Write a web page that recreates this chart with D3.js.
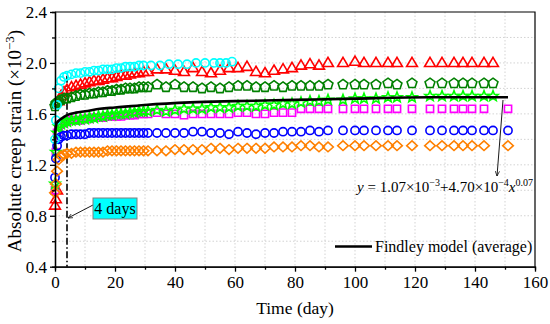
<!doctype html>
<html lang="en">
<head>
    <meta charset="UTF-8">
    <title>Absolute creep strain</title>
    <script type="text/javascript" src="https://cdn.jsdelivr.net/npm/d3@7/dist/d3.min.js"></script>
    <style type="text/css">
        body { margin: 0; background: #fff; }
        svg { display: block; font-family: "Liberation Serif", "Times New Roman", serif; }
        .grid line { stroke: #c8c8c8; stroke-width: 0.8; stroke-dasharray: 1.5, 2; }
        .axis path, .axis line { stroke: #000; stroke-width: 1.3; }
        .axis text { font-size: 17px; fill: #000; font-family: "Liberation Serif", serif; }
    </style>
</head>
<body>
<script type="text/javascript">

    var w = 550;
    var h = 324;

    // measurement days
    var earlyDays = [0, 0.3, 0.7, 1.2, 2, 3, 4, 5.5, 7, 8.5, 10, 11.5, 13, 14.5, 16, 17.5, 19, 20.5, 22, 23.5, 25, 26.5, 28, 29.5];
    var lateDays = [31, 34, 37, 40, 43, 46, 49, 52, 55, 58, 61, 64, 67, 70, 73, 76, 79, 82, 85, 88, 91, 96,
        100, 103, 107, 111, 114, 119, 125, 129, 133, 136, 139, 143, 146, 151];
    var cyanLateDays = [32, 35, 38, 41, 44, 47, 50, 53, 55, 57, 59];

    // strain values (x10^-3)
    var cyanEarly = [1.40, 1.55, 1.67, 1.80, 1.86, 1.89, 1.90, 1.91, 1.92, 1.92, 1.93, 1.93, 1.94, 1.94, 1.95, 1.95, 1.95, 1.96, 1.96, 1.97, 1.97, 1.97, 1.98, 1.98];
    var cyanLate = [1.98, 1.98, 1.99, 1.99, 1.99, 2.00, 2.00, 2.00, 2.00, 2.00, 2.01];

    var redEarly = [0.88, 0.93, 1.00, 1.70, 1.74, 1.77, 1.79, 1.81, 1.82, 1.83, 1.84, 1.85, 1.86, 1.86, 1.87, 1.88, 1.88, 1.89, 1.90, 1.90, 1.91, 1.92, 1.92, 1.93];
    var redLate = [1.93, 1.95, 1.95, 1.94, 1.93, 1.96, 1.93, 1.92, 1.94, 1.96, 1.96, 1.97, 1.93, 1.92, 1.94, 1.95, 1.96, 1.98, 1.99, 1.98, 2.00, 2.00,
        2.01, 2.00, 2.00, 2.00, 2.00, 2.00, 2.00, 2.00, 2.00, 2.00, 2.00, 2.00, 2.00, null];

    var pentEarly = [1.66, 1.68, 1.69, 1.70, 1.71, 1.72, 1.72, 1.73, 1.74, 1.75, 1.75, 1.76, 1.76, 1.77, 1.77, 1.78, 1.78, 1.79, 1.79, 1.80, 1.80, 1.80, 1.81, 1.81];
    var pentLate = [1.81, 1.83, 1.81, 1.83, 1.81, 1.81, 1.80, 1.81, 1.80, 1.81, 1.82, 1.82, 1.81, 1.81, 1.82, 1.81, 1.82, 1.82, 1.82, 1.82, 1.83, 1.83,
        1.83, 1.83, 1.83, 1.84, 1.83, 1.84, 1.84, 1.84, 1.84, 1.84, 1.84, 1.84, 1.84, null];

    var starEarly = [1.05, 1.30, 1.45, 1.50, 1.52, 1.53, 1.54, 1.55, 1.55, 1.56, 1.56, 1.57, 1.57, 1.58, 1.58, 1.59, 1.59, 1.60, 1.60, 1.60, 1.61, 1.61, 1.62, 1.62];
    var starLate = [1.62, 1.63, 1.62, 1.63, 1.64, 1.64, 1.64, 1.65, 1.65, 1.65, 1.66, 1.66, 1.66, 1.67, 1.67, 1.68, 1.68, 1.69, 1.70, 1.70, 1.71, 1.71,
        1.72, 1.72, 1.72, 1.73, 1.73, 1.73, 1.74, 1.74, 1.74, 1.74, 1.74, 1.74, 1.74, null];

    var squareEarly = [1.00, 1.30, 1.45, 1.50, 1.52, 1.53, 1.54, 1.55, 1.55, 1.55, 1.56, 1.56, 1.57, 1.57, 1.57, 1.58, 1.58, 1.58, 1.58, 1.59, 1.59, 1.59, 1.60, 1.60];
    var squareLate = [1.60, 1.61, 1.60, 1.60, 1.59, 1.60, 1.60, 1.60, 1.60, 1.60, 1.61, 1.61, 1.60, 1.60, 1.61, 1.61, 1.61, 1.64, 1.64, 1.64, 1.64, 1.64,
        1.64, 1.64, 1.64, 1.64, 1.64, 1.64, 1.64, 1.64, 1.64, 1.64, 1.64, 1.64, null, 1.64];

    var blueEarly = [1.10, 1.25, 1.35, 1.40, 1.42, 1.43, 1.43, 1.44, 1.44, 1.44, 1.44, 1.45, 1.45, 1.45, 1.45, 1.45, 1.45, 1.45, 1.45, 1.45, 1.45, 1.45, 1.45, 1.45];
    var blueLate = [1.45, 1.45, 1.45, 1.45, 1.45, 1.46, 1.46, 1.45, 1.45, 1.44, 1.46, 1.45, 1.44, 1.45, 1.45, 1.46, 1.46, 1.46, 1.47, 1.46, 1.47, 1.47,
        1.47, 1.47, 1.47, 1.47, 1.47, 1.47, 1.47, 1.47, 1.47, 1.47, 1.47, 1.47, 1.47, 1.47];

    var orangeEarly = [0.98, 1.05, 1.15, 1.24, 1.27, 1.28, 1.29, 1.29, 1.30, 1.30, 1.30, 1.30, 1.30, 1.30, 1.30, 1.31, 1.31, 1.31, 1.31, 1.31, 1.31, 1.31, 1.31, 1.31];
    var orangeLate = [1.31, 1.31, 1.31, 1.32, 1.32, 1.32, 1.32, 1.33, 1.33, 1.32, 1.33, 1.33, 1.33, 1.33, 1.34, 1.34, 1.34, 1.35, 1.35, 1.34, 1.34, 1.35,
        1.35, 1.35, 1.35, 1.35, 1.35, 1.35, 1.35, 1.35, 1.35, 1.35, 1.35, 1.35, null, 1.35];

    // Findley model (average)
    var findleyDays = [0, 0.02, 0.1, 0.3, 0.6, 1, 2, 4, 7, 10, 15, 20, 30, 45, 60, 80, 100, 125, 151];
    var findleyVals = [1.32, 1.41, 1.46, 1.50, 1.53, 1.54, 1.56, 1.59, 1.61, 1.62, 1.64, 1.65, 1.67, 1.69, 1.70, 1.71, 1.72, 1.73, 1.73];

    var xTicks = [0, 20, 40, 60, 80, 100, 120, 140, 160];
    var yTicks = [0.4, 0.8, 1.2, 1.6, 2.0, 2.4];

    function pairs(days, vals) {
        var out = [];
        vals.forEach(function (v, i) {
            if (v !== null) out.push([days[i], v]);
        });
        return out;
    }

    var series = [
        {shape: "triangle", color: "#ff0000", data: pairs(earlyDays, redEarly).concat(pairs(lateDays, redLate))},
        {shape: "pentagon", color: "#008000", data: pairs(earlyDays, pentEarly).concat(pairs(lateDays, pentLate))},
        {shape: "square", color: "#ff00ff", data: pairs(earlyDays, squareEarly).concat(pairs(lateDays, squareLate))},
        {shape: "star", color: "#00ff00", data: pairs(earlyDays, starEarly).concat(pairs(lateDays, starLate))},
        {shape: "circle", color: "#0000ff", data: pairs(earlyDays, blueEarly).concat(pairs(lateDays, blueLate))},
        {shape: "diamond", color: "#ff8000", data: pairs(earlyDays, orangeEarly).concat(pairs(lateDays, orangeLate))},
        {shape: "circle", color: "#00ffff", data: pairs(earlyDays, cyanEarly).concat(pairs(cyanLateDays, cyanLate))}
    ];

    var plotL = 55, plotR = 535, plotT = 12, plotB = 266.7;

    var xScale = d3.scaleLinear().domain([0, 160]).range([plotL, plotR]);
    var yScale = d3.scaleLinear().domain([0.4, 2.4]).range([plotB, plotT]);

    var svg = d3.select("body").append("svg")
        .attr("width", w)
        .attr("height", h);

    // grid
    var grid = svg.append("g").attr("class", "grid");
    grid.selectAll(".gx").data(d3.range(10, 160, 10)).enter().append("line")
        .attr("x1", function (d) { return xScale(d); })
        .attr("x2", function (d) { return xScale(d); })
        .attr("y1", plotT).attr("y2", plotB);
    grid.selectAll(".gy").data(d3.range(0.6, 2.39, 0.2)).enter().append("line")
        .attr("y1", function (d) { return yScale(d); })
        .attr("y2", function (d) { return yScale(d); })
        .attr("x1", plotL).attr("x2", plotR);

    // frame (top / right)
    svg.append("path")
        .attr("d", "M" + plotL + "," + plotT + "H" + plotR + "V" + plotB)
        .attr("fill", "none").attr("stroke", "#000").attr("stroke-width", 1.2);

    function shapePath(type) {
        var p = d3.path();
        var i, a, r;
        if (type === "circle") {
            p.arc(0, 0, 4.1, 0, 2 * Math.PI);
        } else if (type === "triangle") {
            p.moveTo(0, -5.6); p.lineTo(5.4, 3.6); p.lineTo(-5.4, 3.6); p.closePath();
        } else if (type === "square") {
            p.rect(-3.6, -3.6, 7.2, 7.2);
        } else if (type === "diamond") {
            p.moveTo(0, -4.8); p.lineTo(5.3, 0); p.lineTo(0, 4.8); p.lineTo(-5.3, 0); p.closePath();
        } else if (type === "pentagon") {
            for (i = 0; i < 5; i++) {
                a = -Math.PI / 2 + i * 2 * Math.PI / 5;
                if (i === 0) p.moveTo(5.2 * Math.cos(a), 5.2 * Math.sin(a));
                else p.lineTo(5.2 * Math.cos(a), 5.2 * Math.sin(a));
            }
            p.closePath();
        } else if (type === "star") {
            for (i = 0; i < 10; i++) {
                a = -Math.PI / 2 + i * Math.PI / 5;
                r = i % 2 === 0 ? 5.4 : 2.3;
                if (i === 0) p.moveTo(r * Math.cos(a), r * Math.sin(a));
                else p.lineTo(r * Math.cos(a), r * Math.sin(a));
            }
            p.closePath();
        }
        return p.toString();
    }

    // dash-dot line at 4 days
    svg.append("line")
        .attr("x1", xScale(4)).attr("x2", xScale(4))
        .attr("y1", yScale(1.90)).attr("y2", plotB)
        .attr("stroke", "#000").attr("stroke-width", 1.6)
        .attr("stroke-dasharray", "7,2.5,1.5,2.5");

    // markers
    series.forEach(function (s) {
        svg.append("g").selectAll("path")
            .data(s.data)
            .enter()
            .append("path")
            .attr("d", shapePath(s.shape))
            .attr("transform", function (d) {
                return "translate(" + xScale(d[0]) + "," + yScale(d[1]) + ")";
            })
            .attr("fill", "none")
            .attr("stroke", s.color)
            .attr("stroke-width", 1.6);
    });

    // Findley curve
    var line = d3.line()
        .x(function (d) { return xScale(d[0]); })
        .y(function (d) { return yScale(d[1]); })
        .curve(d3.curveMonotoneX);
    svg.append("path")
        .datum(pairs(findleyDays, findleyVals))
        .attr("d", line)
        .attr("fill", "none")
        .attr("stroke", "#000")
        .attr("stroke-width", 2.6);

    // axes
    svg.append("g").attr("class", "axis")
        .attr("transform", "translate(0," + plotB + ")")
        .call(d3.axisBottom(xScale).tickValues(d3.range(10, 160, 20)).tickSize(3).tickFormat(""));
    svg.append("g").attr("class", "axis")
        .attr("transform", "translate(0," + plotB + ")")
        .call(d3.axisBottom(xScale).tickValues(xTicks).tickSize(5).tickSizeOuter(0).tickPadding(4)
            .tickFormat(d3.format("d")));
    svg.append("g").attr("class", "axis")
        .attr("transform", "translate(" + plotL + ",0)")
        .call(d3.axisLeft(yScale).tickValues([0.6, 1.0, 1.4, 1.8, 2.2]).tickSize(3).tickFormat(""));
    svg.append("g").attr("class", "axis")
        .attr("transform", "translate(" + plotL + ",0)")
        .call(d3.axisLeft(yScale).tickValues(yTicks).tickSize(5).tickSizeOuter(0).tickPadding(3)
            .tickFormat(d3.format(".1f")));

    // axis titles
    svg.append("text")
        .attr("x", 295).attr("y", 314)
        .attr("text-anchor", "middle")
        .attr("font-size", "17.5px")
        .text("Time (day)");

    var yt = svg.append("text")
        .attr("transform", "translate(21,141) rotate(-90)")
        .attr("text-anchor", "middle")
        .attr("font-size", "19px");
    yt.append("tspan").text("Absolute creep strain (×10");
    yt.append("tspan").attr("font-size", "13px").attr("dy", -7).text("−3");
    yt.append("tspan").attr("dy", 7).text(")");

    // 4 days callout
    svg.append("defs").append("marker")
        .attr("id", "ah").attr("viewBox", "0 0 10 10")
        .attr("refX", 9).attr("refY", 5)
        .attr("markerWidth", 6).attr("markerHeight", 6)
        .attr("orient", "auto-start-reverse")
        .append("path").attr("d", "M0,1L9,5L0,9").attr("fill", "none").attr("stroke", "#000").attr("stroke-width", 1.3);

    svg.append("line")
        .attr("x1", 93).attr("y1", 205).attr("x2", xScale(4) + 1).attr("y2", 218)
        .attr("stroke", "#000").attr("stroke-width", 0.9)
        .attr("marker-end", "url(#ah)");
    svg.append("rect")
        .attr("x", 93).attr("y", 198).attr("width", 44).attr("height", 21)
        .attr("fill", "#00ffff").attr("stroke", "#808080").attr("stroke-width", 1);
    svg.append("text")
        .attr("x", 115).attr("y", 214)
        .attr("text-anchor", "middle").attr("font-size", "16px")
        .text("4 days");

    // equation
    svg.append("line")
        .attr("x1", 503).attr("y1", 100).attr("x2", 497).attr("y2", 176)
        .attr("stroke", "#000").attr("stroke-width", 0.9)
        .attr("marker-end", "url(#ah)");
    var eq = svg.append("text")
        .attr("x", 357).attr("y", 192)
        .attr("font-size", "15px");
    eq.append("tspan").attr("font-style", "italic").text("y");
    eq.append("tspan").text(" = 1.07×10");
    eq.append("tspan").attr("font-size", "10px").attr("dy", -6).text("−3");
    eq.append("tspan").attr("dy", 6).text("+4.70×10");
    eq.append("tspan").attr("font-size", "10px").attr("dy", -6).text("−4");
    eq.append("tspan").attr("dy", 6).attr("font-style", "italic").text("x");
    eq.append("tspan").attr("font-size", "10px").attr("dy", -6).text("0.07");

    // legend
    svg.append("line")
        .attr("x1", 335).attr("x2", 372).attr("y1", 246.5).attr("y2", 246.5)
        .attr("stroke", "#000").attr("stroke-width", 2.6);
    svg.append("text")
        .attr("x", 375).attr("y", 251.5)
        .attr("font-size", "16px")
        .text("Findley model (average)");

</script>
</body>
</html>
